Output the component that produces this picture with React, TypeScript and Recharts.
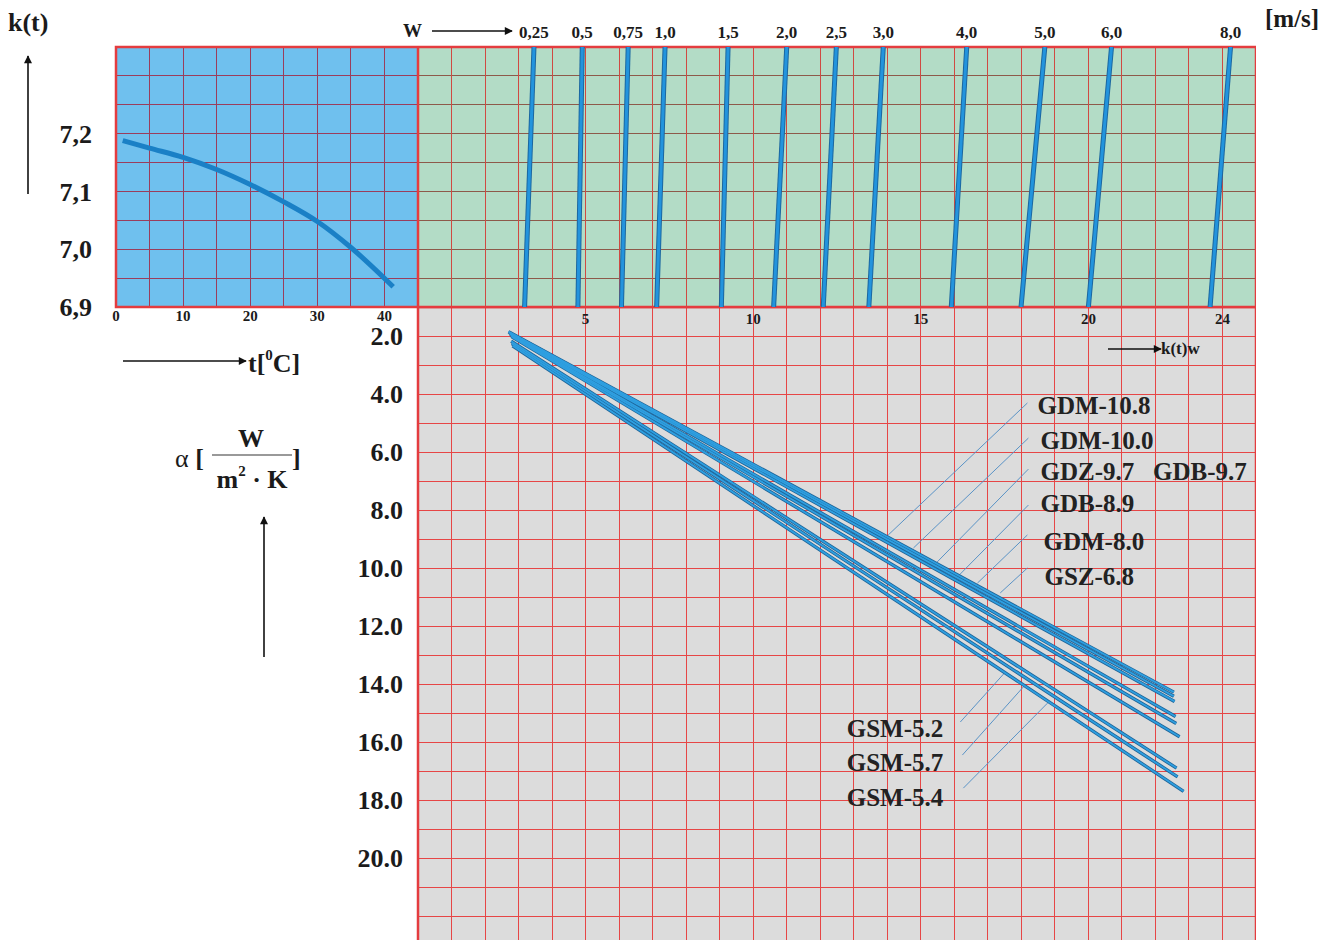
import React from "react";
import {
  ComposedChart,
  LineChart,
  Line,
  Scatter,
  XAxis,
  YAxis,
  CartesianGrid,
  ReferenceArea,
} from "recharts";

const SERIF = '"Liberation Serif", "Times New Roman", serif';
const INK = "#1b1b1b";
const RED = "#e43c3f";

// upper left: k(t) against water temperature
const tempC = [1, 5, 10, 15, 20, 25, 30, 35, 41.3];
const kOfT = [7.188, 7.175, 7.159, 7.138, 7.112, 7.082, 7.048, 7.003, 6.935];
const tTicks = [0, 10, 20, 30, 40];
const kTicks = [6.9, 7.0, 7.1, 7.2];

// upper right: lines of constant w, read as k(t)w at the bottom (k=6.9) and top (k=7.35)
const wLabels = ["0,25", "0,5", "0,75", "1,0", "1,5", "2,0", "2,5", "3,0", "4,0", "5,0", "6,0", "8,0"];
const kwAtKMin = [3.18, 4.77, 6.07, 7.12, 9.05, 10.61, 12.09, 13.45, 15.91, 17.99, 20.0, 23.63];
const kwAtKMax = [3.46, 4.9, 6.27, 7.37, 9.25, 11.0, 12.48, 13.88, 16.37, 18.7, 20.69, 24.24];
const kwTicks = [5, 10, 15, 20, 24];

// lower: alpha against k(t)w, one straight line per unit
const upperNames = ["GDM-10.8", "GDM-10.0", "GDZ-9.7\u00a0\u00a0\u00a0GDB-9.7", "GDB-8.9", "GDM-8.0", "GSZ-6.8"];
const lowerNames = ["GSM-5.2", "GSM-5.7", "GSM-5.4"];
const kwStart = [2.7, 2.72, 2.74, 2.76, 2.78, 2.8, 2.78, 2.8, 2.82];
const alphaStart = [1.85, 1.88, 1.92, 1.95, 1.99, 2.03, 2.18, 2.26, 2.34];
const kwEnd = [22.55, 22.55, 22.57, 22.6, 22.62, 22.72, 22.63, 22.66, 22.84];
const alphaEnd = [14.28, 14.42, 14.6, 15.12, 15.36, 15.82, 16.9, 17.2, 17.7];
const alphaTicks = [2, 4, 6, 8, 10, 12, 14, 16, 18, 20];

// label anchors and leader lines (k(t)w, alpha)
const upperLabelKw = [18.48, 18.57, 18.57, 18.57, 18.66, 18.69];
const upperLabelAlpha = [4.41, 5.59, 6.66, 7.79, 9.07, 10.31];
const lowerLabelKw = [15.67, 15.67, 15.67];
const lowerLabelAlpha = [15.55, 16.72, 17.9];
const leaderFrom = [
  [18.18, 4.31], [18.21, 5.52], [18.21, 6.59], [18.21, 7.83], [18.18, 8.86], [18.18, 10.0],
  [16.18, 15.31], [16.24, 16.45], [16.27, 17.59],
];
const leaderTo = [
  [14.03, 8.86], [14.78, 9.31], [15.49, 9.79], [16.09, 10.31], [16.69, 10.52], [17.37, 10.86],
  [17.52, 13.59], [18.06, 14.1], [18.78, 14.66],
];

const K_MIN = 6.9;
const K_MAX = 7.35;
const T_MAX = 45;
const KW_MAX = 25;
const A_MIN = 1;
const A_MAX = 23;

const range = (a: number, b: number, step: number) =>
  Array.from({ length: Math.round((b - a) / step) + 1 }, (_, i) => +(a + i * step).toFixed(4));

const tick = (size: number) => ({ fill: INK, fontSize: size, fontWeight: 700, fontFamily: SERIF });
const blank = () => "";

const curveData = tempC.map((t, i) => ({ t, k: kOfT[i] }));
const wLines = wLabels.map((_, i) => [
  { kw: kwAtKMin[i], k: K_MIN },
  { kw: kwAtKMax[i], k: K_MAX },
]);
const unitLines = kwStart.map((_, i) => [
  { kw: kwStart[i], a: alphaStart[i] },
  { kw: kwEnd[i], a: alphaEnd[i] },
]);
const leaders = leaderFrom.map((p, i) => [
  { kw: p[0], a: p[1] },
  { kw: leaderTo[i][0], a: leaderTo[i][1] },
]);
const upperLabels = upperNames.map((name, i) => ({ kw: upperLabelKw[i], a: upperLabelAlpha[i], name }));
const lowerLabels = lowerNames.map((name, i) => ({ kw: lowerLabelKw[i], a: lowerLabelAlpha[i], name }));

const labelShape = (anchor: "start" | "end") => (p: any) => (
  <text
    x={p.cx}
    y={p.cy}
    textAnchor={anchor}
    dominantBaseline="central"
    fontFamily={SERIF}
    fontSize={25}
    fontWeight={700}
    fill="#222"
  >
    {p.payload.name}
  </text>
);

const TempChart = () => (
  <LineChart width={418} height={340} margin={{ top: 47, right: 0, bottom: 0, left: 0 }} data={curveData}>
    <CartesianGrid fill="#6fc0ee" stroke="#9a3d5c" shapeRendering="crispEdges" />
    <XAxis
      type="number"
      dataKey="t"
      domain={[0, T_MAX]}
      ticks={range(0, T_MAX, 5)}
      interval={0}
      tickFormatter={(v: number) => (tTicks.includes(v) ? String(v) : "")}
      height={33}
      tickSize={0}
      tickMargin={3}
      axisLine={false}
      tick={tick(15)}
      allowDataOverflow
    />
    <YAxis
      type="number"
      domain={[K_MIN, K_MAX]}
      ticks={range(K_MIN, K_MAX, 0.05)}
      interval={0}
      tickFormatter={(v: number) =>
        kTicks.some((k) => Math.abs(k - v) < 1e-6) ? v.toFixed(1).replace(".", ",") : ""
      }
      width={116}
      tickSize={0}
      tickMargin={24}
      axisLine={false}
      tick={tick(26)}
      allowDataOverflow
    />
    <Line dataKey="k" type="monotone" stroke="#1a80c6" strokeWidth={5} dot={false} isAnimationActive={false} />
    <ReferenceArea x1={0} x2={T_MAX} y1={K_MIN} y2={K_MAX} fill="none" stroke={RED} strokeWidth={2.5} />
  </LineChart>
);

const VelocityChart = () => (
  <LineChart width={838} height={330} margin={{ top: 0, right: 0, bottom: 0, left: 0 }}>
    <CartesianGrid fill="#b3dcc6" stroke="#8d5a4a" vertical={false} shapeRendering="crispEdges" />
    <CartesianGrid stroke="#cf4a42" horizontal={false} shapeRendering="crispEdges" />
    <XAxis
      xAxisId="w"
      orientation="top"
      type="number"
      dataKey="kw"
      domain={[0, KW_MAX]}
      ticks={kwAtKMax}
      interval={0}
      tickFormatter={(v: number) => wLabels[kwAtKMax.indexOf(v)] ?? ""}
      height={47}
      tickSize={0}
      tickMargin={9}
      axisLine={false}
      tick={tick(17)}
      allowDataOverflow
    />
    <XAxis
      type="number"
      dataKey="kw"
      domain={[0, KW_MAX]}
      ticks={range(0, KW_MAX, 1)}
      interval={0}
      tickFormatter={(v: number) => (kwTicks.includes(v) ? String(v) : "")}
      height={23}
      tickSize={0}
      tickMargin={6}
      axisLine={false}
      tick={tick(15)}
      allowDataOverflow
    />
    <YAxis
      type="number"
      domain={[K_MIN, K_MAX]}
      ticks={range(K_MIN, K_MAX, 0.05)}
      interval={0}
      width={0}
      tickFormatter={blank}
      tickSize={0}
      axisLine={false}
      allowDataOverflow
    />
    {wLines.map((d, i) => (
      <Line key={"wo" + i} data={d} dataKey="k" stroke="#1b67a0" strokeWidth={5} dot={false} isAnimationActive={false} />
    ))}
    {wLines.map((d, i) => (
      <Line
        key={"wi" + i}
        xAxisId="w"
        data={d}
        dataKey="k"
        stroke="#2394dd"
        strokeWidth={3}
        dot={false}
        isAnimationActive={false}
      />
    ))}
    <ReferenceArea x1={0} x2={KW_MAX} y1={K_MIN} y2={K_MAX} fill="none" stroke={RED} strokeWidth={2.5} />
  </LineChart>
);

const AlphaChart = () => (
  <ComposedChart width={956} height={640} margin={{ top: 0, right: 0, bottom: 0, left: 0 }}>
    <CartesianGrid fill="#dcdcdc" stroke="#e64646" shapeRendering="crispEdges" />
    <XAxis
      type="number"
      dataKey="kw"
      domain={[0, KW_MAX]}
      ticks={range(0, KW_MAX, 1)}
      interval={0}
      height={2}
      tickFormatter={blank}
      tickSize={0}
      axisLine={false}
      allowDataOverflow
    />
    <YAxis
      type="number"
      dataKey="a"
      domain={[A_MIN, A_MAX]}
      reversed
      ticks={range(A_MIN, A_MAX, 1)}
      interval={0}
      tickFormatter={(v: number) => (alphaTicks.includes(v) ? v.toFixed(1) : "")}
      width={118}
      tickSize={0}
      tickMargin={15}
      axisLine={false}
      tick={tick(26)}
      allowDataOverflow
    />
    {leaders.map((d, i) => (
      <Line key={"ld" + i} data={d} dataKey="a" stroke="#5a93c6" strokeWidth={1} dot={false} isAnimationActive={false} />
    ))}
    {unitLines.map((d, i) => (
      <Line key={"uo" + i} data={d} dataKey="a" stroke="#1d6397" strokeWidth={3.4} dot={false} isAnimationActive={false} />
    ))}
    {unitLines.map((d, i) => (
      <Line key={"ui" + i} data={d} dataKey="a" stroke="#2f9fe0" strokeWidth={1.8} dot={false} isAnimationActive={false} />
    ))}
    <Scatter data={upperLabels} shape={labelShape("start")} isAnimationActive={false} />
    <Scatter data={lowerLabels} shape={labelShape("end")} isAnimationActive={false} />
    <ReferenceArea x1={0} x2={KW_MAX} y1={A_MIN} y2={A_MAX} fill="none" stroke={RED} strokeWidth={2.5} />
  </ComposedChart>
);

const Overlay = () => (
  <svg
    width={1340}
    height={940}
    style={{ position: "absolute", left: 0, top: 0, pointerEvents: "none" }}
    fontFamily={SERIF}
    fill={INK}
  >
    <defs>
      <marker id="ah" viewBox="0 0 10 10" refX="9" refY="5" markerWidth="10" markerHeight="8" markerUnits="userSpaceOnUse" orient="auto">
        <path d="M0,0 L10,5 L0,10 z" fill="#111" />
      </marker>
    </defs>
    {/* k(t) title and arrow */}
    <text x={8} y={31} fontSize={26} fontWeight={700}>k(t)</text>
    <line x1={28} y1={194} x2={28} y2={56} stroke="#111" strokeWidth={1.6} markerEnd="url(#ah)" />
    {/* w title */}
    <text x={403} y={37} fontSize={19} fontWeight={700}>W</text>
    <line x1={432} y1={31} x2={512} y2={31} stroke="#111" strokeWidth={1.6} markerEnd="url(#ah)" />
    <text x={1265} y={27} fontSize={25} fontWeight={700}>[m/s]</text>
    {/* t title */}
    <line x1={123} y1={361} x2={246} y2={361} stroke="#111" strokeWidth={1.6} markerEnd="url(#ah)" />
    <text x={248} y={372} fontSize={26} fontWeight={700}>
      t[<tspan fontSize={15} dy={-12}>0</tspan>
      <tspan dy={12}>C]</tspan>
    </text>
    {/* alpha title */}
    <text x={175} y={467} fontSize={26}>α <tspan fontWeight={700}>[</tspan></text>
    <text x={251} y={447} fontSize={26} fontWeight={700} textAnchor="middle">W</text>
    <line x1={212} y1={455} x2={292} y2={455} stroke="#777" strokeWidth={1.5} />
    <text x={252} y={488} fontSize={26} fontWeight={700} textAnchor="middle">
      m<tspan fontSize={15} dy={-12}>2</tspan>
      <tspan dy={12}> · K</tspan>
    </text>
    <text x={292} y={467} fontSize={26} fontWeight={700}>]</text>
    <line x1={264} y1={657} x2={264} y2={517} stroke="#111" strokeWidth={1.6} markerEnd="url(#ah)" />
    {/* k(t)w title */}
    <line x1={1108} y1={349} x2={1161} y2={349} stroke="#111" strokeWidth={1.6} markerEnd="url(#ah)" />
    <text x={1161} y={354} fontSize={17} fontWeight={700}>k(t)w</text>
  </svg>
);

export default function App() {
  return (
    <div
      style={{
        position: "relative",
        width: 1340,
        height: 940,
        overflow: "hidden",
        background: "#fff",
        fontFamily: SERIF,
      }}
    >
      <style>{"body{margin:0}"}</style>
      <div style={{ position: "absolute", left: 300, top: 307 }}>
        <AlphaChart />
      </div>
      <div style={{ position: "absolute", left: 0, top: 0 }}>
        <TempChart />
      </div>
      <div style={{ position: "absolute", left: 418, top: 0 }}>
        <VelocityChart />
      </div>
      <Overlay />
    </div>
  );
}
